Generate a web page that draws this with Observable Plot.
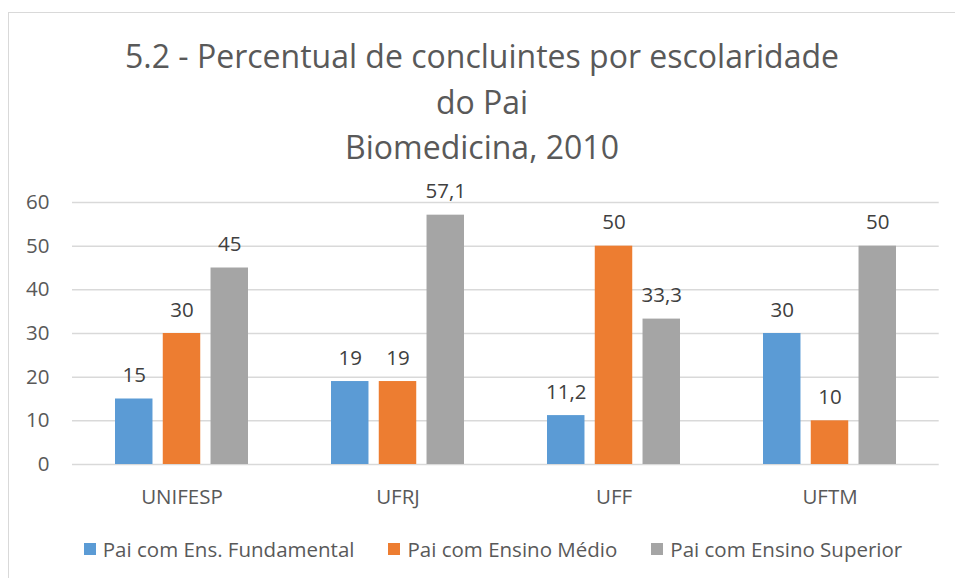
<!DOCTYPE html>
<html>
<head>
<meta charset="utf-8">
<script src="https://cdn.jsdelivr.net/npm/d3@7"></script>
<script src="https://cdn.jsdelivr.net/npm/@observablehq/plot@0.6"></script>
<style>
  html, body { margin: 0; padding: 0; background: #fff; }
  #wrap { position: relative; width: 955px; height: 578px; overflow: hidden; font-family: "Open Sans", sans-serif; background: #fff; }
  #frame { position: absolute; left: 8px; top: 12px; width: 1000px; height: 700px; border-left: 1px solid #d9d9d9; border-top: 1px solid #d9d9d9; }
  #title { position: absolute; left: 0; top: 33px; width: 964px; text-align: center; color: #595959; font-size: 32px; line-height: 45.5px; }
  #chart { position: absolute; left: 0; top: 180px; }
  #legend { position: absolute; left: 0; top: 536px; width: 986px; display: flex; justify-content: center; color: #595959; font-size: 20.5px; line-height: 26px; }
  .item { display: flex; align-items: center; margin: 0 17px; white-space: nowrap; }
  .sw { width: 12px; height: 12px; margin-right: 7px; }
</style>
</head>
<body>
<div id="wrap">
  <div id="frame"></div>
  <div id="title"></div>
  <div id="chart"></div>
  <div id="legend"></div>
</div>
<script>
const tituloLinhas = ["5.2 - Percentual de concluintes por escolaridade", "do Pai", "Biomedicina, 2010"];
const universidades = ["UNIFESP", "UFRJ", "UFF", "UFTM"];
const series = ["Pai com Ens. Fundamental", "Pai com Ensino Médio", "Pai com Ensino Superior"];
const fundamental = [15, 19, 11.2, 30];
const medio = [30, 19, 50, 10];
const superior = [45, 57.1, 33.3, 50];
const cores = ["#5b9bd5", "#ed7d31", "#a5a5a5"];
const yTicks = [0, 10, 20, 30, 40, 50, 60];

const valores = [fundamental, medio, superior];
const fmt = v => String(v).replace(".", ",");

document.getElementById("title").innerHTML = tituloLinhas.map(t => `<div>${t}</div>`).join("");

// layout of the grouped bars (band scale on universities, 3 bars per band)
const W = 955, mL = 72, mR = 16.3;
const pInner = 0.385, pOuter = 0.1925, barPad = 0.21;
const step = (W - mL - mR) / (universidades.length - pInner + 2 * pOuter);
const bw = step * (1 - pInner);
const sub = bw / (series.length - barPad);
const barW = sub * (1 - barPad);
const inset = (bw - barW) / 2;

const marks = [
  Plot.ruleY(yTicks, {stroke: "#d9d9d9", strokeWidth: 1.5}),
  Plot.axisY({ticks: yTicks, tickSize: 0, tickPadding: 23, fontSize: 20.5, fill: "#595959", label: null}),
  Plot.axisX({tickSize: 0, tickPadding: 25.4, fontSize: 20.5, fill: "#595959", label: null})
];
series.forEach((s, j) => {
  const rows = universidades.map((u, i) => ({univ: u, serie: s, valor: valores[j][i]}));
  const dx = (j - (series.length - 1) / 2) * sub;
  marks.push(Plot.barY(rows, {x: "univ", y: "valor", fill: cores[j], insetLeft: inset, insetRight: inset, dx}));
  marks.push(Plot.text(rows, {x: "univ", y: "valor", text: d => fmt(d.valor), lineAnchor: "bottom", dy: -17, dx, fill: "#404040", fontSize: 20.5}));
});

const chart = Plot.plot({
  width: W,
  height: 340,
  marginTop: 22,
  marginBottom: 56,
  marginLeft: mL,
  marginRight: mR,
  style: {fontFamily: "Open Sans, sans-serif", fontSize: "20.5px", color: "#595959", background: "transparent", overflow: "visible"},
  x: {domain: universidades, paddingInner: pInner, paddingOuter: pOuter},
  y: {domain: [0, 60]},
  marks
});
document.getElementById("chart").appendChild(chart);

const legend = document.getElementById("legend");
series.forEach((s, j) => {
  const item = document.createElement("div");
  item.className = "item";
  item.innerHTML = `<span class="sw" style="background:${cores[j]}"></span><span>${s}</span>`;
  legend.appendChild(item);
});
</script>
</body>
</html>
